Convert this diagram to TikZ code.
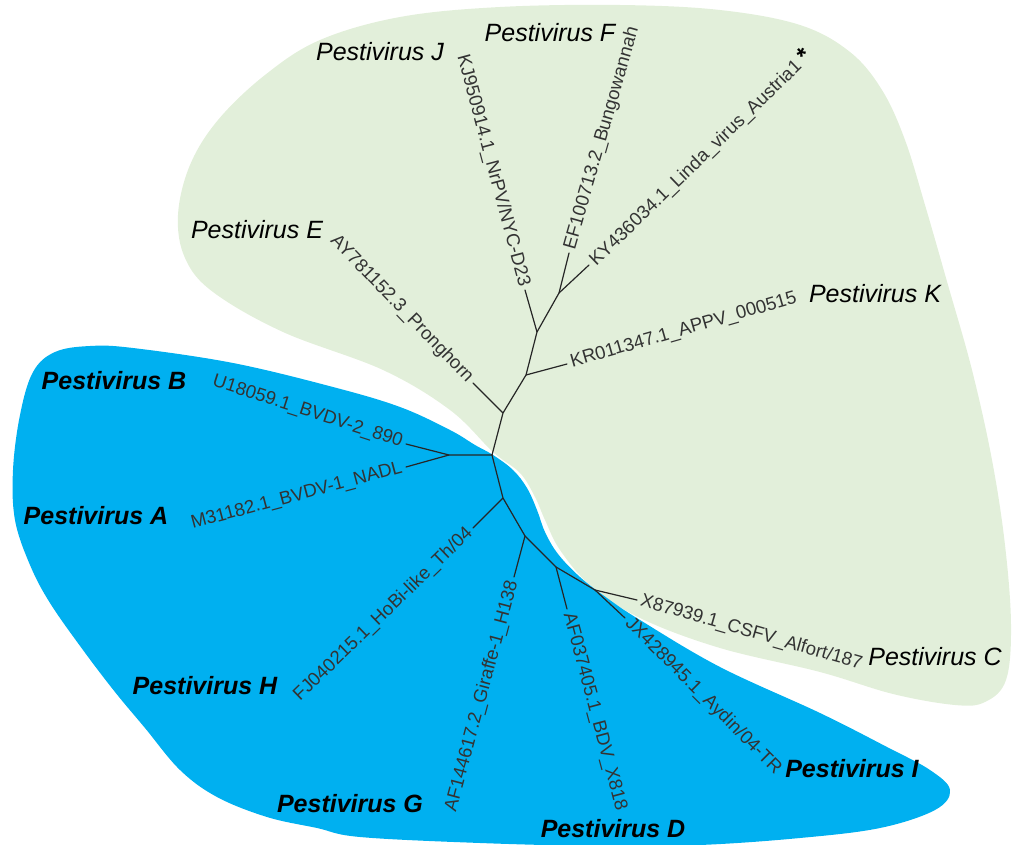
\documentclass[tikz,border=0pt]{standalone}
\usepackage{fontspec}
\setmainfont{Liberation Sans}
\usepackage{tikz}
\definecolor{cladegreen}{RGB}{226,239,218}
\definecolor{cladeblue}{RGB}{0,176,240}

\begin{document}
\begin{tikzpicture}[x=1pt, y=-1pt,
    clade/.style={font=\fontsize{25}{30}\selectfont\itshape, text=black, inner sep=0pt},
    cladeb/.style={clade, font=\fontsize{25}{30}\selectfont\bfseries\itshape},
    seqlbl/.style={font=\fontsize{18.6}{22}\selectfont, text=black!80, inner sep=4pt},
    branch/.style={draw=black!85, line width=1.2pt, line cap=round, line join=round}
    ]
    \useasboundingbox (0,0) rectangle (1012,845);

    % clade areas
    \fill[cladegreen] plot[smooth cycle, tension=0.6] coordinates {
        (493,452) (450,410) (383,370) (283,332) (213,292) (185,258) (178,215)
        (190,165) (218,120) (265,75) (320,40) (400,17) (500,7) (620,5) (720,10)
        (800,25) (850,52) (882,90) (905,140) (925,205) (948,285) (972,370)
        (992,460) (1005,545) (1011,625) (1006,680) (985,702) (955,705) (893,694)
        (820,672) (720,648) (640,618) (590,585) (560,550) (545,520) (535,497)
        (520,473)};
    \fill[cladeblue] plot[smooth cycle, tension=0.6] coordinates {
        (493,455) (513,470) (527,488) (537,510) (545,532) (558,554) (580,577)
        (607,598) (640,620) (720,667) (820,713) (887,747) (930,770) (950,790)
        (935,810) (880,828) (800,838) (700,845) (600,846) (480,843) (360,837)
        (317,828) (267,817) (217,797) (180,770) (145,728) (115,692) (83,650)
        (50,603) (30,565) (15,520) (13,470) (20,415) (33,372) (55,352) (90,346)
        (133,348) (233,363) (333,387) (400,407) (450,430) (475,445)};

    % tree
    \coordinate (Root) at (492,455);
    \coordinate (Node01) at (503,413);
    \coordinate (Node02) at (526,375);
    \coordinate (Node03) at (537,332);
    \coordinate (Node04) at (559,293);
    \coordinate (Node05) at (449,455);
    \coordinate (Node06) at (503,498);
    \coordinate (Node07) at (525,536);
    \coordinate (Node08) at (556,567);
    \coordinate (Node09) at (595,590);
    \coordinate (LeafE) at (473,383);
    \coordinate (LeafK) at (567,364);
    \coordinate (LeafJ) at (525,290);
    \coordinate (LeafF) at (569,253);
    \coordinate (LeafL) at (589,265);
    \coordinate (LeafB) at (406,444);
    \coordinate (LeafA) at (406,467);
    \coordinate (LeafH) at (473,528);
    \coordinate (LeafG) at (514,577);
    \coordinate (LeafD) at (567,609);
    \coordinate (LeafC) at (637,600);
    \coordinate (LeafI) at (625,618);

    \draw[branch] (Root) -- (Node01) -- (Node02) -- (Node03) -- (Node04) -- (LeafF);
    \draw[branch] (Node04) -- (LeafL);
    \draw[branch] (Node03) -- (LeafJ);
    \draw[branch] (Node02) -- (LeafK);
    \draw[branch] (Node01) -- (LeafE);
    \draw[branch] (Root) -- (Node05) -- (LeafB);
    \draw[branch] (Node05) -- (LeafA);
    \draw[branch] (Root) -- (Node06) -- (Node07) -- (Node08) -- (Node09) -- (LeafI);
    \draw[branch] (Node06) -- (LeafH);
    \draw[branch] (Node07) -- (LeafG);
    \draw[branch] (Node08) -- (LeafD);
    \draw[branch] (Node09) -- (LeafC);

    % sequence labels
    \node[seqlbl, rotate=-75, anchor=east] (SeqJ) at (LeafJ) {KJ950914.1\_NrPV/NYC-D23};
    \node[seqlbl, rotate=74, anchor=west] (SeqF) at (LeafF) {EF100713.2\_Bungowannah};
    \node[seqlbl, rotate=44, anchor=west] (SeqL) at (LeafL) {KY436034.1\_Linda\_virus\_Austria1 {\color{black}\fontsize{24}{24}\selectfont\bfseries *}};
    \node[seqlbl, rotate=16, anchor=west] (SeqK) at (LeafK) {KR011347.1\_APPV\_000515};
    \node[seqlbl, rotate=-46, anchor=east] (SeqE) at (LeafE) {AY781152.3\_Pronghorn};
    \node[seqlbl, rotate=-18, anchor=east] (SeqB) at (LeafB) {U18059.1\_BVDV-2\_890};
    \node[seqlbl, rotate=15, anchor=east] (SeqA) at (LeafA) {M31182.1\_BVDV-1\_NADL};
    \node[seqlbl, rotate=44, anchor=east] (SeqH) at (LeafH) {FJ040215.1\_HoBi-like\_Th/04};
    \node[seqlbl, rotate=75, anchor=east] (SeqG) at (LeafG) {AF144617.2\_Giraffe-1\_H138};
    \node[seqlbl, rotate=-75, anchor=west] (SeqD) at (LeafD) {AF037405.1\_BDV\_X818};
    \node[seqlbl, rotate=-45, anchor=west] (SeqI) at (LeafI) {JX428945.1\_Aydin/04-TR};
    \node[seqlbl, rotate=-16, anchor=west] (SeqC) at (LeafC) {X87939.1\_CSFV\_Alfort/187};

    % species labels
    \node[clade] (CladeJ) at (380,52) {Pestivirus J};
    \node[clade] (CladeF) at (550,33) {Pestivirus F};
    \node[clade] (CladeE) at (257,230) {Pestivirus E};
    \node[clade] (CladeK) at (875,294) {Pestivirus K};
    \node[clade] (CladeC) at (935,657) {Pestivirus C};
    \node[cladeb] (CladeB) at (114,381) {Pestivirus B};
    \node[cladeb] (CladeA) at (96,516) {Pestivirus A};
    \node[cladeb] (CladeH) at (205,686) {Pestivirus H};
    \node[cladeb] (CladeG) at (350,804) {Pestivirus G};
    \node[cladeb] (CladeD) at (613,829) {Pestivirus D};
    \node[cladeb] (CladeI) at (852,769) {Pestivirus I};
\end{tikzpicture}
\end{document}
